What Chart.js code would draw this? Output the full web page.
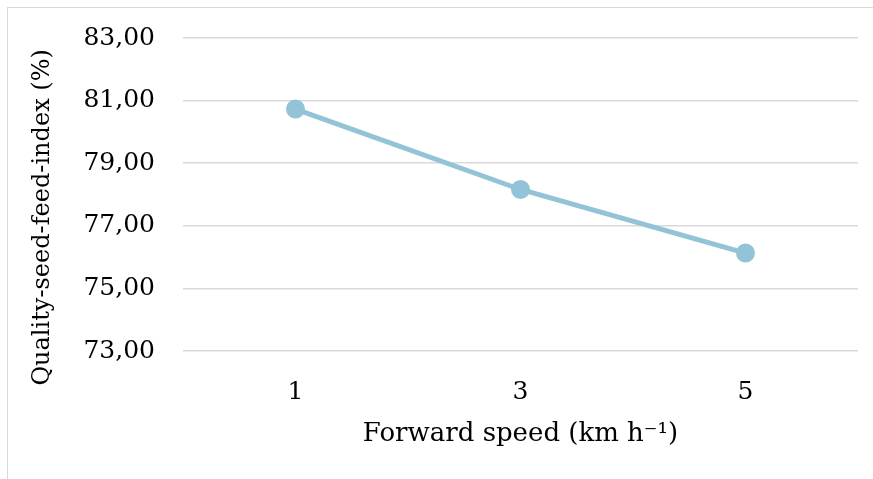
<!DOCTYPE html>
<html>
<head>
<meta charset="utf-8">
<script src="https://cdn.jsdelivr.net/npm/chart.js@4/dist/chart.umd.min.js"></script>
<style>
  html, body { margin: 0; padding: 0; background: #fff; }
  #wrap {
    position: absolute; left: 7px; top: 7px;
    width: 866px; height: 472px;
    border-top: 1px solid #d9d9d9; border-left: 1px solid #d9d9d9;
  }
</style>
</head>
<body>
<div id="wrap"><canvas id="chart"></canvas></div>
<script>
// values
const speeds = ['1', '3', '5'];
const qualityIndex = [80.73, 78.16, 76.13];
const yMin = 73, yMax = 83, yStep = 2;

const serif = '"DejaVu Serif", "Liberation Serif", serif';
const lineColor = '#92c3d6';

document.addEventListener('DOMContentLoaded', function() {
    const ctx = document.getElementById('chart').getContext('2d');
    new Chart(ctx, {
        type: 'line',
        data: {
            labels: speeds,
            datasets: [{
                data: qualityIndex,
                borderColor: lineColor,
                backgroundColor: lineColor,
                borderWidth: 5,
                pointRadius: 7,
                pointHoverRadius: 7,
                tension: 0
            }]
        },
        options: {
            responsive: true,
            maintainAspectRatio: false,
            animation: false,
            layout: { padding: { top: 30, right: 16, left: 20, bottom: 30 } },
            plugins: { legend: { display: false }, tooltip: { enabled: false } },
            scales: {
                x: {
                    offset: true,
                    grid: { display: false },
                    border: { display: false },
                    ticks: { color: '#000', padding: 18, font: { family: serif, size: 25 } },
                    title: {
                        display: true,
                        text: 'Forward speed (km h\u207B\u00B9)',
                        color: '#000',
                        padding: 0,
                        font: { family: serif, size: 26 }
                    },
                    afterFit: function(scale) { scale.height = 99; }
                },
                y: {
                    min: yMin,
                    max: yMax,
                    grid: { color: '#d9d9d9', lineWidth: 1.5, drawTicks: false },
                    border: { display: false },
                    ticks: {
                        stepSize: yStep,
                        color: '#000',
                        padding: 28,
                        font: { family: serif, size: 25 },
                        callback: function(v) { return v.toFixed(2).replace('.', ','); }
                    },
                    title: {
                        display: true,
                        // trailing spaces push the rotated title a little lower, as in the original
                        text: 'Quality-seed-feed-index (%)\u00A0\u00A0\u00A0\u00A0\u00A0\u00A0',
                        color: '#000',
                        padding: 0,
                        font: { family: serif, size: 24 }
                    },
                    afterFit: function(scale) {
                        scale.width = 155;
                        // tick padding otherwise gets added above/below the plot
                        scale.paddingTop = 0;
                        scale.paddingBottom = 0;
                    }
                }
            }
        }
    });
});
</script>
</body>
</html>
